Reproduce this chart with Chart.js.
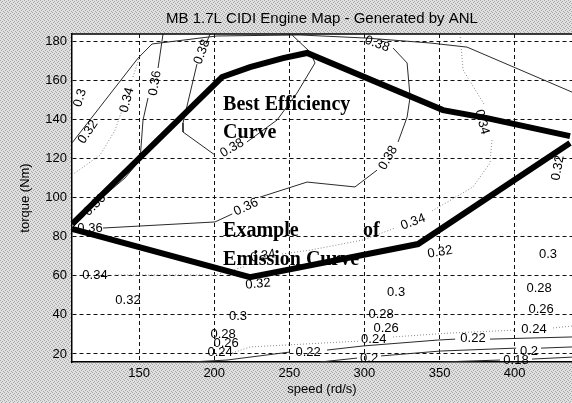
<!DOCTYPE html>
<html>
<head>
<meta charset="utf-8">
<script src="https://cdn.jsdelivr.net/npm/chart.js@4.4.0/dist/chart.umd.min.js"></script>
<style>
  html, body { margin: 0; padding: 0; background: #cbcbcb; }
</style>
</head>
<body>
<canvas id="engineMap" width="572" height="403"></canvas>
<script>
// axis ticks
const speedTicks = [150, 200, 250, 300, 350, 400];
const torqueTicks = [20, 40, 60, 80, 100, 120, 140, 160, 180];

// thick curves, [speed rd/s, torque Nm]
const bestEfficiency = [[105.3, 86.4], [205.2, 161.6], [223.8, 166.7], [245.8, 171.3], [261.8, 173.9], [352.3, 144.7], [381.6, 140.6], [436.9, 131.4]];
const emissionCurve = [[105.3, 83.9], [223.8, 59.3], [247.8, 62.9], [335.7, 76.2], [436.9, 127.9]];

// efficiency contours (null = gap for a label)
const maxTorqueLine = [[105.3, 127.9], [149.3, 171.3], [158.6, 178.5], [201.9, 182.6], [257.1, 183.1], [301.7, 181.5], [343.7, 179.0], [368.3, 176.9], [438.2, 153.9]];
const eff034Upper = [[105.3, 111.5], [124.0, 121.7], [134.0, 134.5], [139.3, 146.3], null, [145.9, 161.6], [150.6, 172.8]];
const eff036Upper = [[105.3, 84.4], [114.0, 91.0], null, [127.3, 101.3], [140.6, 110.0], [150.6, 119.2], [152.6, 139.6], [155.9, 150.9], null, [162.6, 166.2], [165.9, 183.6]];
const eff038Inner = [[197.2, 183.6], [194.5, 178.5], null, [188.5, 168.2], [179.2, 138.1], [179.2, 133.5], [200.5, 121.7], null, [221.8, 128.4], [241.8, 139.6], [255.1, 153.4], [267.1, 168.8], [263.8, 174.4], [251.8, 183.1]];
const eff036Outer = [[105.3, 83.9], null, [126.0, 84.4], [200.5, 87.5], [212.0, 91.6], null, [230.5, 100.2], [261.8, 107.9], [293.7, 105.4], [308.4, 114.0], null, [322.4, 128.4], [328.4, 141.1], [330.4, 151.4], [328.4, 168.8], [319.1, 176.4]];
const eff034Lower = [[105.3, 60.4], null, [134.0, 60.4], [200.5, 60.4], [219.6, 64.5], null, [245.2, 71.1], [263.8, 73.1], [299.1, 78.3], [320.4, 84.4], null, [345.0, 93.1], [372.3, 105.4], [383.6, 117.6], [384.9, 129.4], null, [379.6, 147.8], [365.7, 165.2], [363.6, 183.6]];
const eff024 = [[211.9, 20.5], [223.8, 23.6], [297.1, 26.6], null, [319.1, 28.7], [357.0, 30.7], [400.3, 32.2], null, [425.6, 33.3], [438.2, 34.3]];
const eff022 = [[183.9, 15.9], [208.5, 16.9], [250.5, 21.0], null, [275.1, 22.0], [299.1, 24.1], [348.4, 27.1], [360.4, 27.6], null, [383.6, 27.6], [438.2, 28.7]];
const eff020 = [[270.5, 15.9], [295.1, 17.9], null, [311.1, 19.0], [350.4, 21.5], [401.0, 23.0], null, [417.6, 23.0], [438.2, 23.6]];
const eff018 = [[350.4, 15.9], [390.3, 16.9], null, [411.6, 17.4], [438.2, 18.4]];

// contour labels: text, speed, torque, angle (deg)
const contourLabels = [
  ['0.3', 110.7, 150.9, -72], ['0.32', 116.0, 133.5, -55], ['0.34', 141.9, 149.8, -75],
  ['0.36', 160.6, 158.5, -80], ['0.38', 191.9, 174.4, -70], ['0.38', 211.9, 125.3, -30],
  ['0.36', 120.6, 96.2, -45], ['0.36', 117.3, 84.4, 0], ['0.36', 221.2, 95.1, -25],
  ['0.38', 315.8, 120.2, -60], ['0.38', 308.4, 178.5, 20], ['0.34', 378.3, 138.6, 75],
  ['0.32', 428.9, 115.1, -80], ['0.34', 332.4, 87.5, -20], ['0.34', 232.5, 70.1, -10],
  ['0.34', 120.6, 60.4, 0], ['0.32', 142.6, 47.6, 0], ['0.32', 229.2, 55.8, -5],
  ['0.32', 350.3, 72.1, -10], ['0.3', 422.2, 71.1, 0], ['0.3', 321.1, 51.7, 0],
  ['0.3', 215.8, 39.4, 0], ['0.28', 416.3, 53.7, 0], ['0.28', 311.1, 40.4, 0],
  ['0.28', 205.9, 30.2, 0], ['0.26', 417.6, 43.0, 0], ['0.26', 314.4, 33.3, 0],
  ['0.26', 207.9, 25.6, 0], ['0.24', 412.9, 32.8, 0], ['0.24', 306.2, 27.6, 0],
  ['0.24', 203.9, 21.0, 0], ['0.22', 372.3, 28.2, 0], ['0.22', 262.5, 21.0, 0],
  ['0.2', 409.6, 21.5, 0], ['0.2', 303.1, 17.9, 0], ['0.18', 400.9, 16.9, 0]
];

// big annotations: text, speed, torque (left/baseline)
const curveNotes = [
  ['Best Efficiency', 205.9, 144.7], ['Curve', 205.9, 130.4],
  ['Example', 205.9, 80.3], ['of', 299.1, 80.3], ['Emission Curve', 205.9, 65.5]
];

const toPoints = (pairs) => pairs.map(p => p ? { x: p[0], y: p[1] } : { x: null, y: null });

const thick = (pairs) => ({
  data: toPoints(pairs), showLine: true, pointRadius: 0,
  borderColor: '#000', borderWidth: 6, borderJoinStyle: 'miter'
});
const solid = (pairs) => ({
  data: toPoints(pairs), showLine: true, pointRadius: 0,
  borderColor: '#2a2a2a', borderWidth: 1
});
const dotted = (pairs) => ({
  data: toPoints(pairs), showLine: true, pointRadius: 0,
  borderColor: '#8a8a8a', borderWidth: 1, borderDash: [1, 2]
});

// grey dithered backdrop, white plot area, top frame line
const framePlugin = {
  id: 'frame',
  beforeDraw(chart) {
    const { ctx, chartArea: a } = chart;
    const tile = document.createElement('canvas');
    tile.width = 4; tile.height = 4;
    const t = tile.getContext('2d');
    t.fillStyle = '#e0e0e0'; t.fillRect(0, 0, 4, 4);
    t.fillStyle = '#a8a8a8';
    t.fillRect(0, 0, 1, 1); t.fillRect(2, 1, 1, 1); t.fillRect(1, 2, 1, 1); t.fillRect(3, 3, 1, 1);
    ctx.save();
    ctx.fillStyle = ctx.createPattern(tile, 'repeat');
    ctx.fillRect(0, 0, chart.width, chart.height);
    ctx.fillStyle = '#fff';
    ctx.fillRect(a.left, a.top, a.right - a.left, a.bottom - a.top);
    ctx.restore();
  },
  afterDraw(chart) {
    const { ctx, chartArea: a } = chart;
    ctx.save();
    ctx.strokeStyle = '#000'; ctx.lineWidth = 1.5;
    ctx.beginPath(); ctx.moveTo(a.left, a.top); ctx.lineTo(a.right, a.top); ctx.stroke();
    ctx.restore();
  }
};

const textPlugin = {
  id: 'mapText',
  afterDatasetsDraw(chart) {
    const { ctx, scales: { x, y } } = chart;
    ctx.save();
    ctx.fillStyle = '#000';
    ctx.font = '13px "Liberation Sans", Arial, sans-serif';
    ctx.textAlign = 'center';
    ctx.textBaseline = 'middle';
    contourLabels.forEach(([txt, s, tq, rot]) => {
      ctx.save();
      ctx.translate(x.getPixelForValue(s), y.getPixelForValue(tq));
      ctx.rotate(rot * Math.PI / 180);
      ctx.fillText(txt, 0, 0);
      ctx.restore();
    });
    ctx.font = 'bold 20px "Liberation Serif", "Times New Roman", serif';
    ctx.textAlign = 'left';
    ctx.textBaseline = 'alphabetic';
    curveNotes.forEach(([txt, s, tq]) => {
      ctx.fillText(txt, x.getPixelForValue(s), y.getPixelForValue(tq));
    });
    ctx.restore();
  }
};

new Chart(document.getElementById('engineMap'), {
  type: 'scatter',
  data: {
    datasets: [
      thick(bestEfficiency), thick(emissionCurve),
      solid(maxTorqueLine), dotted(eff034Upper), solid(eff036Upper), solid(eff038Inner),
      solid(eff036Outer), dotted(eff034Lower), dotted(eff024), solid(eff022),
      solid(eff020), solid(eff018)
    ]
  },
  options: {
    responsive: false,
    animation: false,
    layout: { padding: 0 },
    plugins: {
      legend: { display: false },
      tooltip: { enabled: false },
      title: {
        display: true,
        text: 'MB 1.7L CIDI Engine Map - Generated by ANL',
        fullSize: false,
        color: '#000',
        font: { family: 'Liberation Sans', size: 15, weight: 'normal' },
        padding: { top: 10, bottom: 6 }
      }
    },
    scales: {
      x: {
        type: 'linear', min: 105.3, max: 438.2,
        afterBuildTicks: (scale) => { scale.ticks = speedTicks.map(v => ({ value: v })); },
        afterFit: (scale) => { scale.height = 41; },
        ticks: { color: '#000', autoSkip: false, maxRotation: 0, padding: 4,
                 font: { family: 'Liberation Sans', size: 13 } },
        grid: { color: '#111', lineWidth: 1, drawTicks: false },
        border: { display: true, color: '#000', width: 1.5, dash: [4, 3] },
        title: { display: true, text: 'speed (rd/s)', color: '#000',
                 font: { family: 'Liberation Sans', size: 13 }, padding: { top: 0, bottom: 6 } }
      },
      y: {
        type: 'linear', min: 15.9, max: 183.6,
        afterBuildTicks: (scale) => { scale.ticks = torqueTicks.map(v => ({ value: v })); },
        afterFit: (scale) => { scale.width = 72; },
        ticks: { color: '#000', autoSkip: false, padding: 5,
                 font: { family: 'Liberation Sans', size: 13 } },
        grid: { color: '#111', lineWidth: 1, drawTicks: false },
        border: { display: true, color: '#000', width: 1.5, dash: [4, 3] },
        title: { display: true, text: 'torque (Nm)', color: '#000',
                 font: { family: 'Liberation Sans', size: 13 }, padding: { top: 18, bottom: 0 } }
      }
    }
  },
  plugins: [framePlugin, textPlugin]
});
</script>
</body>
</html>
